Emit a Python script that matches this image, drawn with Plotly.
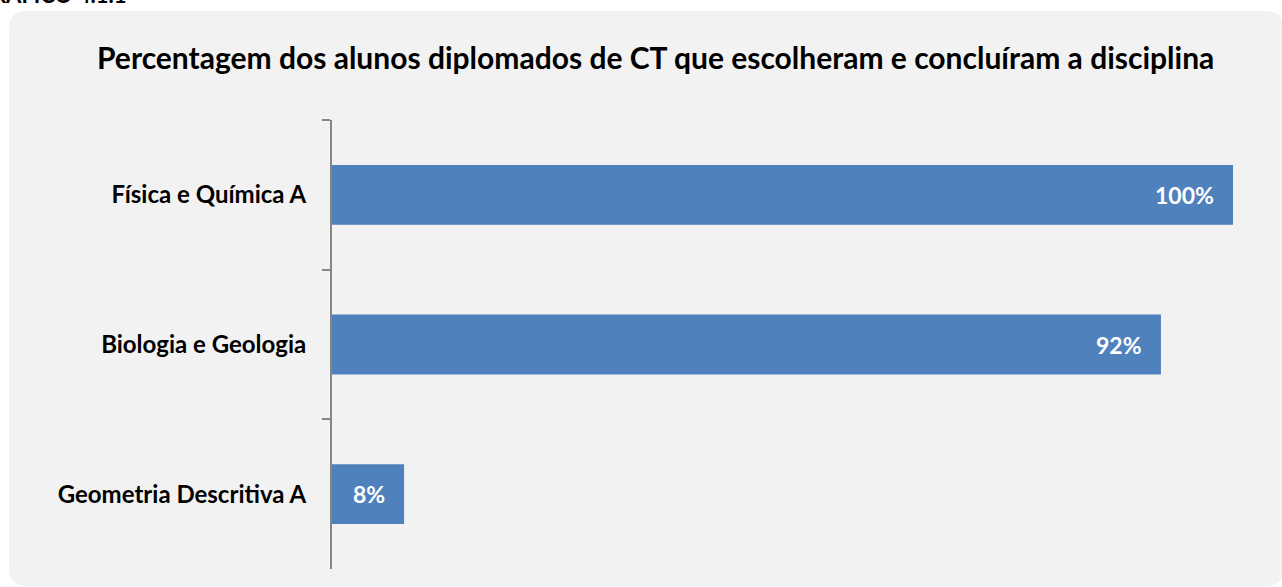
import plotly.graph_objects as go

categories = ["Física e Química A", "Biologia e Geologia", "Geometria Descritiva A"]
values = [100, 92, 8]
value_labels = ["100%", "92%", "8%"]
title_text = "Percentagem dos alunos diplomados de CT que escolheram e concluíram a disciplina"
header_text = "GRÁFICO 4.1.1"

W, H = 1282, 587
ML, MR, MT, MB = 332, 49, 120, 18
PW, PH = W - ML - MR, H - MT - MB
FONT = "Lato"

def px(x):
    return (x - ML) / PW

def py(y):
    return (H - MB - y) / PH

def rounded_rect(x0, y0, x1, y1, r):
    rx = r / PW
    ry = r / PH
    X0, X1 = px(x0), px(x1)
    Y0, Y1 = py(y0), py(y1)
    return (f"M {X0+rx},{Y0} L {X1-rx},{Y0} Q {X1},{Y0} {X1},{Y0-ry} "
            f"L {X1},{Y1+ry} Q {X1},{Y1} {X1-rx},{Y1} "
            f"L {X0+rx},{Y1} Q {X0},{Y1} {X0},{Y1+ry} "
            f"L {X0},{Y0-ry} Q {X0},{Y0} {X0+rx},{Y0} Z")

fig = go.Figure()
fig.add_trace(go.Bar(
    x=values, y=categories, orientation="h",
    marker=dict(color="#4F81BD", line=dict(width=0)),
    hoverinfo="skip",
))

annotations = []
for c, v, t in zip(categories, values, value_labels):
    annotations.append(dict(
        x=v, y=c, xref="x", yref="y", text=f"<b>{t}</b>", showarrow=False,
        xanchor="right", yanchor="middle", xshift=-17,
        font=dict(family=FONT, size=23, color="white"),
    ))

annotations.append(dict(
    x=px(655), y=py(57), xref="paper", yref="paper",
    text=f"<b>{title_text}</b>", showarrow=False,
    xanchor="center", yanchor="middle",
    font=dict(family=FONT, size=30, color="black"),
))
annotations.append(dict(
    x=px(128), y=py(10), xref="paper", yref="paper",
    text=f"<b>{header_text}</b>", showarrow=False,
    xanchor="right", yanchor="bottom",
    font=dict(family=FONT, size=22, color="black"),
))

fig.update_layout(
    width=W, height=H,
    margin=dict(l=ML, r=MR, t=MT, b=MB, pad=0),
    paper_bgcolor="white",
    plot_bgcolor="rgba(0,0,0,0)",
    showlegend=False,
    bargap=0.6,
    annotations=annotations,
    shapes=[dict(
        type="path", xref="paper", yref="paper",
        path=rounded_rect(9, 11, 1284, 586, 18),
        fillcolor="#F2F2F2", line=dict(width=0), layer="below",
    )],
    xaxis=dict(range=[0, 100], visible=False, showgrid=False, zeroline=False,
               fixedrange=True),
    yaxis=dict(
        autorange="reversed", showline=True, linecolor="#868686", linewidth=2,
        ticks="outside", ticklen=8, tickwidth=2, tickcolor="#868686",
        tickson="boundaries", showgrid=False, zeroline=False,
        tickfont=dict(family=FONT, size=24, color="black"),
        ticklabelstandoff=19, fixedrange=True,
        tickprefix="<b>", ticksuffix="</b>",
    ),
)

fig.write_html(
    "out.html",
    config={"displayModeBar": False, "staticPlot": True},
    post_script="document.body.style.margin='0';document.body.style.overflow='hidden';",
)
